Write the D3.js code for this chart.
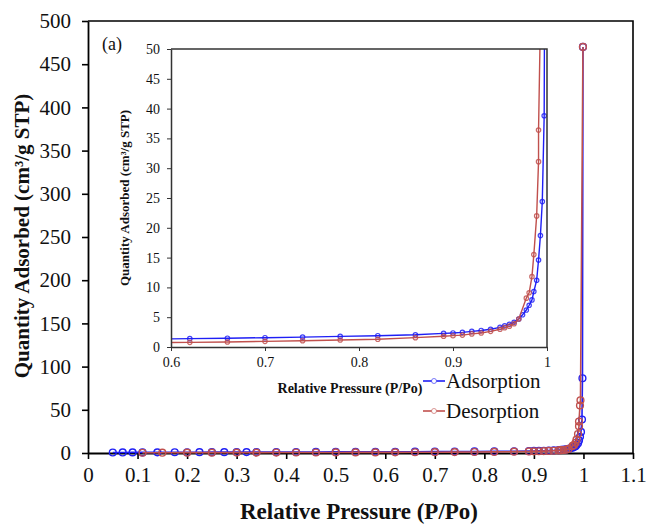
<!DOCTYPE html>
<meta charset="utf-8">
<head>
  <meta charset="utf-8">
  <title>adsorption / desorption isotherm</title>
  <script src="https://d3js.org/d3.v7.min.js"></script>
</head>

<style>
body {margin:0; background:#fff;}
svg text {font-family: "Liberation Serif", "Times New Roman", serif; fill:#111;}
.axis path, .axis line {stroke:#000;}
.inset .axis path, .inset .axis line {stroke:#333;}
</style>

<body>
<script>

// data
var adsP = [0.05,0.07,0.09,0.11,0.14,0.175,0.20,0.225,0.25,0.275,0.30,0.32,0.34,0.38,0.42,0.46,0.50,0.54,0.58,0.62,0.66,0.70,0.74,0.78,0.82,0.86,0.89,0.90,0.91,0.92,0.93,0.94,0.95,0.955,0.96,0.965,0.97,0.974,0.978,0.981,0.984,0.986,0.989,0.991,0.993,0.995,0.997,0.998,0.999];
var adsQ = [0.55,0.62,0.68,0.72,0.78,0.84,0.88,0.92,0.96,1.00,1.03,1.06,1.08,1.12,1.16,1.20,1.25,1.29,1.34,1.40,1.48,1.56,1.66,1.78,1.90,2.05,2.28,2.36,2.46,2.62,2.78,2.98,3.30,3.55,3.80,4.15,4.70,5.40,6.20,7.00,7.90,9.30,11.2,14.6,18.7,24.4,38.8,86.5,470];

var desP = [0.999,0.994,0.993,0.991,0.991,0.989,0.986,0.984,0.981,0.978,0.97,0.965,0.96,0.955,0.95,0.94,0.93,0.92,0.91,0.90,0.89,0.86,0.82,0.78,0.74,0.70,0.66,0.62,0.58,0.54,0.50,0.46,0.42,0.38,0.34,0.30,0.25,0.20,0.15,0.11];
var desQ = [470,61,55,36.4,31.1,22.0,15.5,11.8,9.1,8.2,4.7,3.9,3.5,3.25,2.97,2.63,2.35,2.2,2.0,1.9,1.8,1.57,1.29,1.18,1.06,0.95,0.84,0.78,0.72,0.68,0.64,0.60,0.56,0.52,0.48,0.45,0.42,0.38,0.34,0.30];

var seriesNames = ["Adsorption", "Desorption"];
var colors = ["#1f1ff5", "#c0504d"];

var mainXTicks = [0,0.1,0.2,0.3,0.4,0.5,0.6,0.7,0.8,0.9,1,1.1];
var mainYTicks = [0,50,100,150,200,250,300,350,400,450,500];
var insetXTicks = [0.6,0.7,0.8,0.9,1];
var insetYTicks = [0,5,10,15,20,25,30,35,40,45,50];

var ads = adsP.map(function(p, i){ return {p: p, q: adsQ[i]}; });
var des = desP.map(function(p, i){ return {p: p, q: desQ[i]}; });
var series = [ads, des];

var serif = "Liberation Serif, Times New Roman, serif";
var fmt = function(d){ return +d.toFixed(2); };

var svg = d3.select("body").append("svg")
    .attr("width", 646)
    .attr("height", 524)
    .attr("font-family", serif);

// main plot
var margin = {top: 21, right: 13, bottom: 71, left: 88},
    width = 646 - margin.left - margin.right,
    height = 524 - margin.top - margin.bottom;

var g = svg.append("g")
    .attr("transform", "translate(" + margin.left + "," + margin.top + ")");

var x = d3.scaleLinear().domain([0, 1.1]).range([0, width]);
var y = d3.scaleLinear().domain([0, 500]).range([height, 0]);

// frame (top + right)
g.append("path")
    .attr("d", "M0,0H" + width + "V" + height)
    .attr("fill", "none")
    .attr("stroke", "#000")
    .attr("stroke-width", 1.6);

g.append("g")
    .attr("class", "axis")
    .attr("transform", "translate(0," + height + ")")
    .call(d3.axisBottom(x).tickValues(mainXTicks).tickFormat(fmt).tickSize(6).tickSizeOuter(0).tickPadding(8))
    .call(function(a){
      a.attr("font-family", serif);
      a.select(".domain").attr("stroke-width", 1.8);
      a.selectAll("line").attr("stroke-width", 1.6);
      a.selectAll("text").attr("font-size", 21).attr("fill", "#111");
    });

g.append("g")
    .attr("class", "axis")
    .call(d3.axisLeft(y).tickValues(mainYTicks).tickSize(6).tickSizeOuter(0).tickPadding(11))
    .call(function(a){
      a.attr("font-family", serif);
      a.select(".domain").attr("stroke-width", 1.8);
      a.selectAll("line").attr("stroke-width", 1.6);
      a.selectAll("text").attr("font-size", 21).attr("fill", "#111");
    });

// axis titles
svg.append("text")
    .attr("x", 359)
    .attr("y", 519)
    .attr("text-anchor", "middle")
    .attr("font-size", 23)
    .attr("font-weight", "bold")
    .text("Relative Pressure (P/Po)");

svg.append("text")
    .attr("transform", "translate(29,236) rotate(-90)")
    .attr("text-anchor", "middle")
    .attr("font-size", 21)
    .attr("font-weight", "bold")
    .text("Quantity Adsorbed (cm³/g STP)");

svg.append("text")
    .attr("x", 102)
    .attr("y", 50)
    .attr("font-size", 18)
    .text("(a)");

// main series
var line = d3.line()
    .x(function(d){ return x(d.p); })
    .y(function(d){ return y(d.q); });

series.forEach(function(s, i){
  g.append("path")
      .datum(s)
      .attr("fill", "none")
      .attr("stroke", colors[i])
      .attr("stroke-width", 1.6)
      .attr("d", line);
  g.selectAll(".pt" + i)
      .data(s)
    .enter().append("circle")
      .attr("class", "pt" + i)
      .attr("cx", function(d){ return x(d.p); })
      .attr("cy", function(d){ return y(d.q); })
      .attr("r", 3.4)
      .attr("fill", "none")
      .attr("stroke", colors[i])
      .attr("stroke-width", 1.4);
});

// legend
seriesNames.forEach(function(name, i){
  var ly = 381 + i * 30;
  svg.append("line")
      .attr("x1", 423).attr("x2", 445)
      .attr("y1", ly).attr("y2", ly)
      .attr("stroke", colors[i])
      .attr("stroke-width", 1.6);
  svg.append("circle")
      .attr("cx", 434).attr("cy", ly).attr("r", 2.5)
      .attr("fill", "#fff")
      .attr("stroke", colors[i])
      .attr("stroke-opacity", 0.6)
      .attr("stroke-width", 1);
  svg.append("text")
      .attr("x", 446)
      .attr("y", ly + 7)
      .attr("font-size", 21)
      .text(name);
});

// inset
var ins = {left: 171, top: 49, width: 376, height: 298};

var gi = svg.append("g")
    .attr("class", "inset")
    .attr("transform", "translate(" + ins.left + "," + ins.top + ")");

var xi = d3.scaleLinear().domain([0.6, 1]).range([0, ins.width]);
var yi = d3.scaleLinear().domain([0, 50]).range([ins.height, 0]);

gi.append("rect")
    .attr("width", ins.width)
    .attr("height", ins.height)
    .attr("fill", "#fff");

gi.append("clipPath")
    .attr("id", "insetClip")
  .append("rect")
    .attr("width", ins.width)
    .attr("height", ins.height);

var linei = d3.line()
    .x(function(d){ return xi(d.p); })
    .y(function(d){ return yi(d.q); });

var gd = gi.append("g").attr("clip-path", "url(#insetClip)");

series.forEach(function(s, i){
  gd.append("path")
      .datum(s)
      .attr("fill", "none")
      .attr("stroke", colors[i])
      .attr("stroke-width", 1.4)
      .attr("d", linei);
  gd.selectAll(".ipt" + i)
      .data(s.filter(function(d){ return d.p >= 0.6; }))
    .enter().append("circle")
      .attr("class", "ipt" + i)
      .attr("cx", function(d){ return xi(d.p); })
      .attr("cy", function(d){ return yi(d.q); })
      .attr("r", 2.2)
      .attr("fill", "none")
      .attr("stroke", colors[i])
      .attr("stroke-opacity", 0.85)
      .attr("stroke-width", 1.2);
});

gi.append("path")
    .attr("d", "M0,0H" + ins.width + "V" + ins.height)
    .attr("fill", "none")
    .attr("stroke", "#333")
    .attr("stroke-width", 1.5);

gi.append("g")
    .attr("class", "axis")
    .attr("transform", "translate(0," + ins.height + ")")
    .call(d3.axisBottom(xi).tickValues(insetXTicks).tickFormat(fmt).tickSize(4).tickSizeOuter(0).tickPadding(6))
    .call(function(a){
      a.attr("font-family", serif);
      a.select(".domain").attr("stroke-width", 1.5);
      a.selectAll("text").attr("font-size", 14).attr("fill", "#111");
    });

gi.append("g")
    .attr("class", "axis")
    .call(d3.axisLeft(yi).tickValues(insetYTicks).tickSize(4).tickSizeOuter(0).tickPadding(7))
    .call(function(a){
      a.attr("font-family", serif);
      a.select(".domain").attr("stroke-width", 1.5);
      a.selectAll("text").attr("font-size", 14).attr("fill", "#111");
    });

svg.append("text")
    .attr("x", 350)
    .attr("y", 393)
    .attr("text-anchor", "middle")
    .attr("font-size", 14)
    .attr("font-weight", "bold")
    .text("Relative Pressure (P/Po)");

svg.append("text")
    .attr("transform", "translate(129,198) rotate(-90)")
    .attr("text-anchor", "middle")
    .attr("font-size", 13)
    .attr("font-weight", "bold")
    .text("Quantity Adsorbed (cm³/g STP)");

</script>
</body>
